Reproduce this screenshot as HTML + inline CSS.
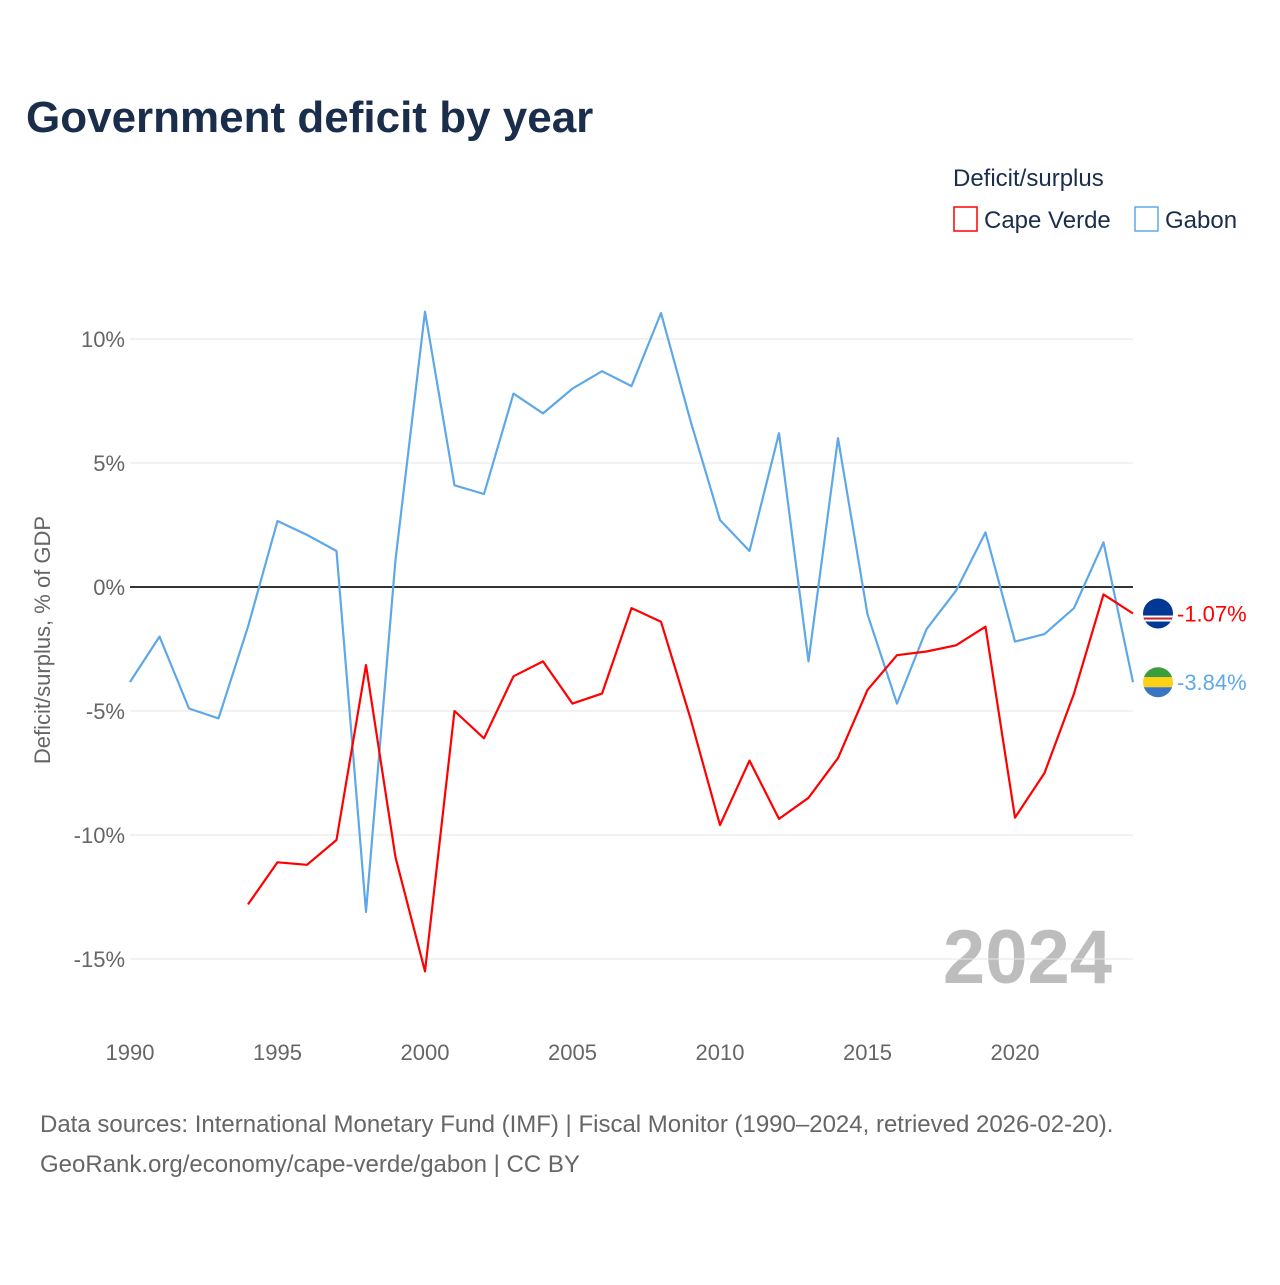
<!DOCTYPE html>
<html><head><meta charset="utf-8"><style>
body{margin:0;background:#fff;font-family:"Liberation Sans",sans-serif;}
</style></head><body>
<svg id="c" width="1280" height="1280" xmlns="http://www.w3.org/2000/svg" style="font-family:'Liberation Sans',sans-serif">
<rect width="1280" height="1280" fill="#fff"/>
<text x="26" y="132" font-size="44" font-weight="bold" fill="#1a2e4c">Government deficit by year</text>
<text x="953" y="186" font-size="24" fill="#1a2e4c">Deficit/surplus</text>
<g><rect x="954" y="207" width="23" height="24" fill="none" stroke="#ff0000" stroke-width="1.5"/><text x="984" y="228" font-size="24" fill="#1a2e4c">Cape Verde</text></g>
<g><rect x="1135" y="207" width="23" height="24" fill="none" stroke="#5ea8e8" stroke-width="1.5"/><text x="1165" y="228" font-size="24" fill="#1a2e4c">Gabon</text></g>
<text transform="translate(50,640) rotate(-90)" text-anchor="middle" font-size="22" fill="#666">Deficit/surplus, % of GDP</text>
<text x="1112" y="983" text-anchor="end" font-size="76" font-weight="bold" fill="#bdbdbd">2024</text>
<text x="40" y="1132" font-size="24" fill="#666">Data sources: International Monetary Fund (IMF) | Fiscal Monitor (1990–2024, retrieved 2026-02-20).</text>
<text x="40" y="1172" font-size="24" fill="#666">GeoRank.org/economy/cape-verde/gabon | CC BY</text>
<g id="g"></g>
</svg>
<script>
const years=[];for(let y=1990;y<=2024;y++)years.push(y);
const gabon=[-3.83,-2.0,-4.9,-5.3,-1.6,2.66,2.1,1.45,-13.1,1.1,11.1,4.1,3.75,7.8,7.0,8.0,8.7,8.1,11.05,6.7,2.7,1.45,6.2,-3.0,6.0,-1.1,-4.7,-1.7,-0.15,2.2,-2.2,-1.9,-0.85,1.8,-3.84];
const capeVerde=[null,null,null,null,-12.8,-11.1,-11.2,-10.2,-3.15,-10.9,-15.5,-5.0,-6.1,-3.6,-3.0,-4.7,-4.3,-0.85,-1.4,-5.3,-9.6,-7.0,-9.35,-8.5,-6.9,-4.15,-2.75,-2.6,-2.35,-1.6,-9.3,-7.5,-4.3,-0.3,-1.07];
const yTicks=[10,5,0,-5,-10,-15];
const xTicks=[1990,1995,2000,2005,2010,2015,2020];
const X=y=>130+(y-1990)*(1133-130)/34;
const Y=v=>587-v*24.8;
const NS='http://www.w3.org/2000/svg';
const g=document.getElementById('g');
function mk(t,a,parent){const e=document.createElementNS(NS,t);for(const k in a)e.setAttribute(k,a[k]);(parent||g).appendChild(e);return e;}
yTicks.forEach(v=>{
 const l=mk('line',{x1:130,x2:1133,y1:Y(v),y2:Y(v),stroke:v===0?'#333':'#e6e6e6','stroke-width':v===0?2:1});
 
 
 const t=mk('text',{x:125,y:Y(v)+8,'text-anchor':'end','font-size':22,fill:'#666'});
 t.textContent=v+'%';
 
 
});
xTicks.forEach(v=>{
 const t=mk('text',{x:X(v),y:1060,'text-anchor':'middle','font-size':22,fill:'#666'});
 t.textContent=v;
 
 
});
const defs=mk('defs',{});
function line(vals,color,name,stripes){
 let d='';vals.forEach((v,i)=>{if(v===null)return;d+=(d?'L':'M')+X(years[i]).toFixed(1)+','+Y(v).toFixed(1);});
 const p=mk('path',{d:d,fill:'none',stroke:color,'stroke-width':2.2,'stroke-linejoin':'round'});
 
 
 const last=vals[vals.length-1];
 const cy=Y(last);
 const cp=mk('clipPath',{id:'cp-'+name},defs);
 mk('circle',{cx:1158,cy:cy,r:15},cp);
 const fg=mk('g',{'clip-path':'url(#cp-'+name+')'});
 
 
 stripes.forEach(s=>mk('rect',{x:1140,y:cy+s[0],width:36,height:s[1],fill:s[2]},fg));
 const t=mk('text',{x:1177,y:cy+8,'font-size':22,fill:color});
 t.textContent=last.toFixed(2)+'%';
 
 
}
line(gabon,'#5ea8e8','gabon-line',[[-16,11,'#3a9e3a'],[-5,10,'#fcd116'],[5,11,'#3a75c4']]);
line(capeVerde,'#ff0000','cape-verde-line',[[-16,32,'#003893'],[2,2,'#fff'],[4,2,'#cf2027'],[6,2,'#fff']]);
</script>
</body></html>
